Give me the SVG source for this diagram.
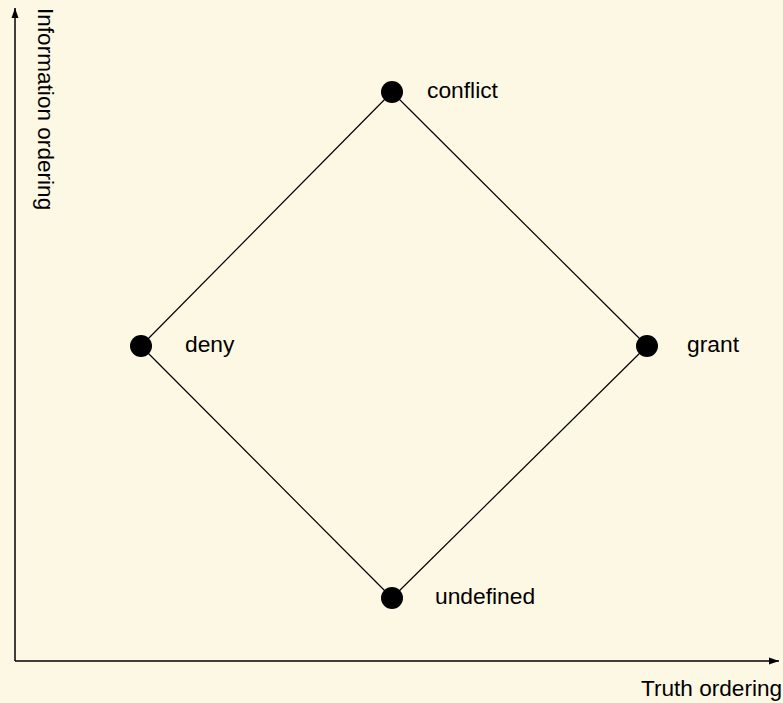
<svg xmlns="http://www.w3.org/2000/svg" width="783" height="703" viewBox="0 0 783 703">
<style>
text{font-family:"Liberation Sans",Arial,sans-serif;fill:#000}
.lbl{font-size:22.8px}
.ax{font-size:22.6px}
.edge{stroke:#000;stroke-width:1.2;fill:none}
.axis{stroke:#000;stroke-width:1.5;fill:none}
.dot{fill:#000}
</style>
<defs>
<marker id="arr" viewBox="0 0 10 10" refX="10" refY="5" markerWidth="10" markerHeight="10" markerUnits="userSpaceOnUse" orient="auto">
<path d="M0,1.5 L10,5 L0,8.5 z" fill="#000"/>
</marker>
</defs>
<rect width="783" height="703" fill="#fdf8e4"/>
<g id="axes">
<line class="axis" x1="15" y1="661" x2="15" y2="8" marker-end="url(#arr)"/>
<line class="axis" x1="15" y1="661" x2="779" y2="661" marker-end="url(#arr)"/>
<text class="ax" transform="translate(38,8) rotate(90)">Information ordering</text>
<text class="ax" x="641" y="696">Truth ordering</text>
</g>
<g id="connectors">
<line class="edge" x1="392" y1="92" x2="141" y2="346"/>
<line class="edge" x1="392" y1="92" x2="647" y2="346"/>
<line class="edge" x1="141" y1="346" x2="392" y2="598"/>
<line class="edge" x1="647" y1="346" x2="392" y2="598"/>
</g>
<g id="conflict"><circle class="dot" cx="392" cy="92" r="11"/><text class="lbl" x="427" y="98">conflict</text></g>
<g id="deny"><circle class="dot" cx="141" cy="346" r="11"/><text class="lbl" x="185" y="352">deny</text></g>
<g id="grant"><circle class="dot" cx="647" cy="346" r="11"/><text class="lbl" x="687" y="352">grant</text></g>
<g id="undefined"><circle class="dot" cx="392" cy="598" r="11"/><text class="lbl" x="435" y="604">undefined</text></g>
</svg>
